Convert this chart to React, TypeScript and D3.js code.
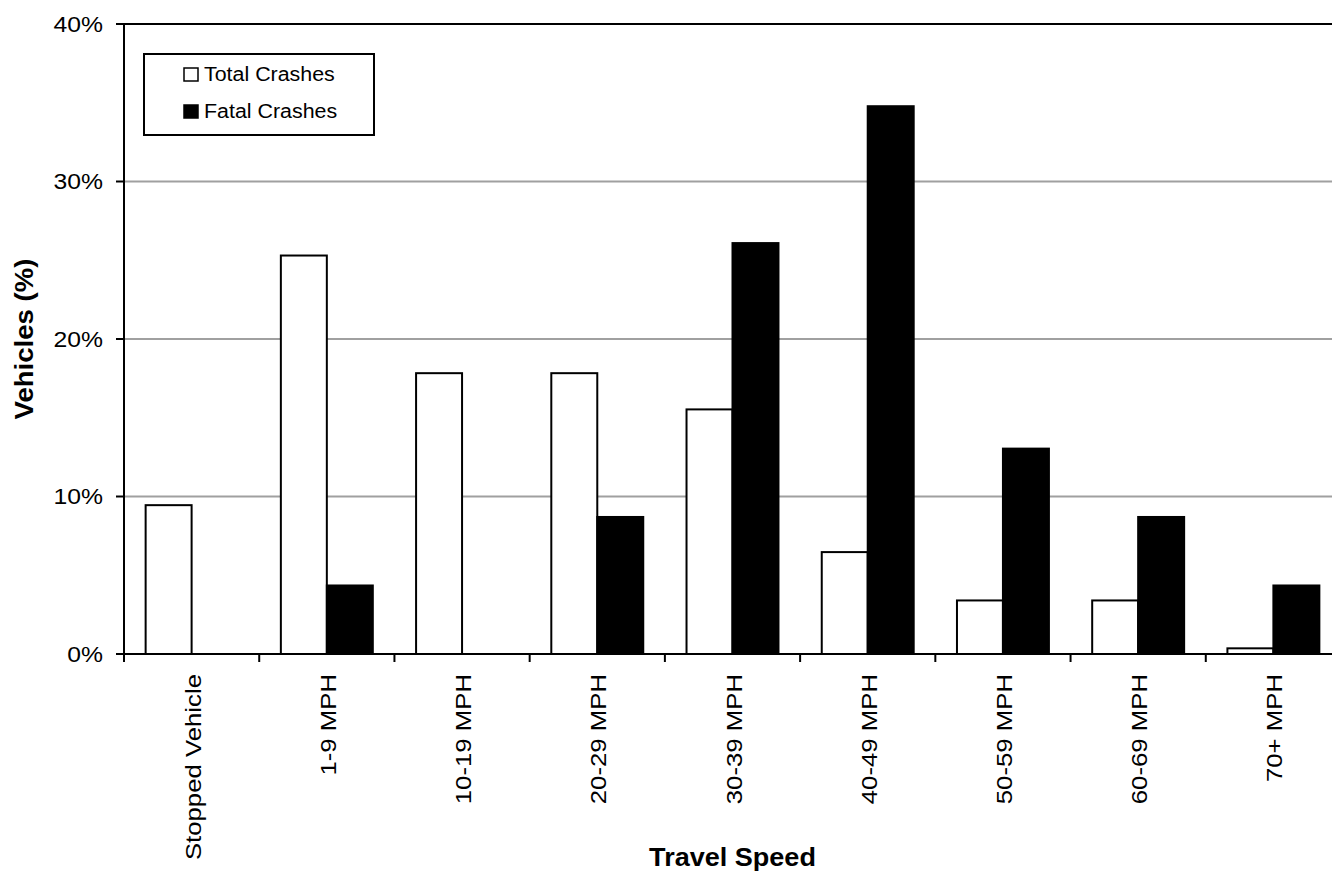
import React from "react";
import * as d3 from "d3";

const categories = [
  "Stopped Vehicle",
  "1-9 MPH",
  "10-19 MPH",
  "20-29 MPH",
  "30-39 MPH",
  "40-49 MPH",
  "50-59 MPH",
  "60-69 MPH",
  "70+ MPH",
];
const seriesNames = ["Total Crashes", "Fatal Crashes"];
const totalCrashes = [9.45, 25.3, 17.83, 17.83, 15.53, 6.47, 3.4, 3.4, 0.36];
const fatalCrashes = [0, 4.35, 0, 8.7, 26.09, 34.78, 13.04, 8.7, 4.35];
const yTicks = [0, 10, 20, 30, 40];
const seriesFill = ["#ffffff", "#000000"];

const W = 1332;
const H = 871;
const left = 124;
const right = 1341;
const top = 24;
const bottom = 654;
const FONT = "'Liberation Sans', Arial, Helvetica, sans-serif";

export default function App() {
  const x = d3.scaleBand<string>().domain(categories).range([left, right]).padding(0);
  const bw = x.bandwidth();
  const xi = d3
    .scaleBand<string>()
    .domain(seriesNames)
    .range([bw * 0.16, bw * 0.84])
    .padding(0);
  const y = d3.scaleLinear().domain([0, 40]).range([bottom, top]);
  const series = [totalCrashes, fatalCrashes];

  const boundaries = d3.range(categories.length + 1).map((i) => left + i * bw);

  return (
    <svg
      width={W}
      height={H}
      style={{ position: "absolute", left: 0, top: 0, display: "block", background: "#fff" }}
      fontFamily={FONT}
    >
      <rect x={0} y={0} width={W} height={H} fill="#fff" />
      {/* gridlines */}
      {yTicks
        .filter((t) => t > 0 && t < 40)
        .map((t) => (
          <line key={"g" + t} x1={left} x2={right} y1={y(t)} y2={y(t)} stroke="#a0a0a0" strokeWidth={2} />
        ))}
      {/* top border */}
      <line x1={left} x2={right} y1={y(40)} y2={y(40)} stroke="#000" strokeWidth={2} />
      {/* bars */}
      {series.map((vals, si) =>
        vals.map((v, ci) =>
          v > 0 ? (
            <rect
              key={`b${si}-${ci}`}
              x={(x(categories[ci]) as number) + (xi(seriesNames[si]) as number)}
              y={y(v)}
              width={xi.bandwidth()}
              height={y(0) - y(v)}
              fill={seriesFill[si]}
              stroke="#000"
              strokeWidth={2}
            />
          ) : null
        )
      )}
      {/* y axis */}
      <line x1={left} x2={left} y1={top - 1} y2={bottom + 1} stroke="#000" strokeWidth={2} />
      {yTicks.map((t) => (
        <g key={"y" + t}>
          <line x1={left - 8} x2={left} y1={y(t)} y2={y(t)} stroke="#000" strokeWidth={2} />
          <text
            transform={`translate(103,${y(t) + 7.5}) scale(1.15,1)`}
            textAnchor="end"
            fontSize={21.5}
            fill="#000"
          >
            {t}%
          </text>
        </g>
      ))}
      {/* x axis */}
      <line x1={left - 8} x2={right} y1={bottom} y2={bottom} stroke="#000" strokeWidth={2} />
      {boundaries.map((bx, i) => (
        <line key={"xt" + i} x1={bx} x2={bx} y1={bottom} y2={bottom + 8} stroke="#000" strokeWidth={2} />
      ))}
      {categories.map((c) => {
        const cx = (x(c) as number) + bw / 2;
        return (
          <text
            key={"xl" + c}
            transform={`translate(${cx + 9},${674}) rotate(-90) scale(1.12,1)`}
            textAnchor="end"
            fontSize={23}
            fill="#000"
          >
            {c}
          </text>
        );
      })}
      {/* axis titles */}
      <text
        transform={`translate(${(left + right) / 2},866) scale(1.04,1)`}
        textAnchor="middle"
        fontSize={26}
        fontWeight="bold"
        fill="#000"
      >
        Travel Speed
      </text>
      <text
        transform={`translate(33,${(top + bottom) / 2}) rotate(-90) scale(1.06,1)`}
        textAnchor="middle"
        fontSize={26}
        fontWeight="bold"
        fill="#000"
      >
        Vehicles (%)
      </text>
      {/* legend */}
      <rect x={144} y={54} width={230} height={81} fill="#fff" stroke="#000" strokeWidth={2} />
      {seriesNames.map((s, i) => (
        <g key={"lg" + s}>
          <rect
            x={184}
            y={68 + i * 37}
            width={14}
            height={13}
            fill={seriesFill[i]}
            stroke="#000"
            strokeWidth={1.5}
          />
          <text
            transform={`translate(204,${81 + i * 36.5}) scale(1.07,1)`}
            fontSize={20}
            fill="#000"
          >
            {s}
          </text>
        </g>
      ))}
    </svg>
  );
}
